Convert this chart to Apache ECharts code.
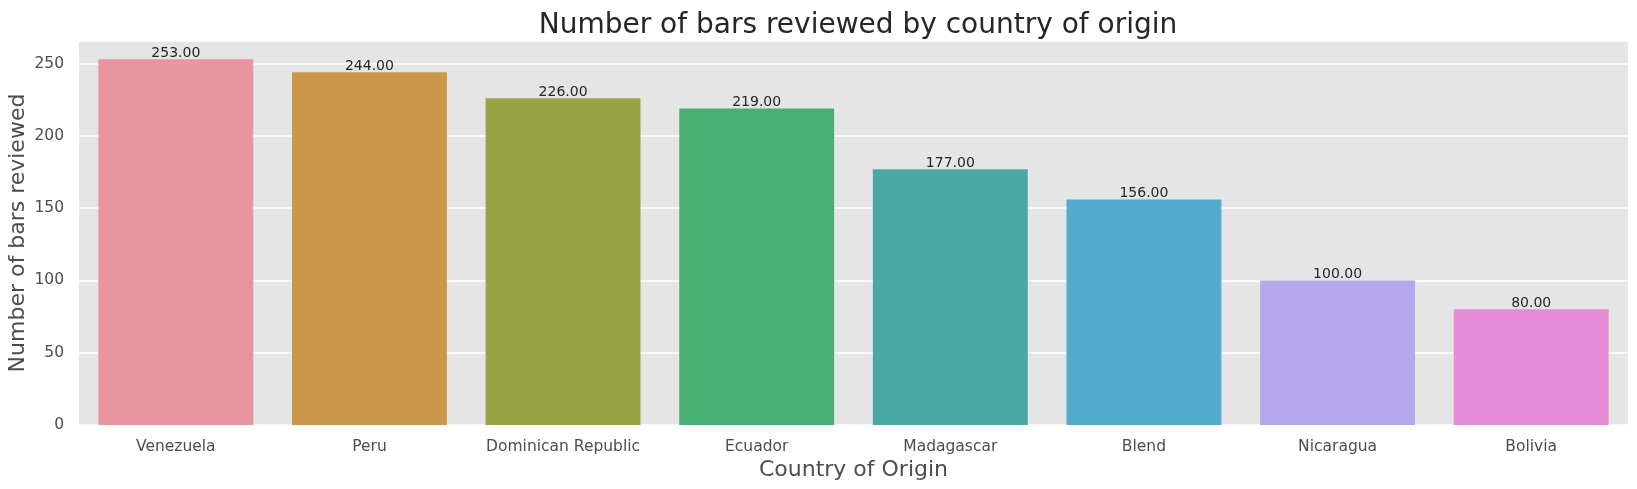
<!DOCTYPE html>
<html>
<head>
<meta charset="utf-8">
<script src="https://cdn.jsdelivr.net/npm/echarts@6/dist/echarts.min.js"></script>
<style>html,body{margin:0;padding:0;background:#fff}#c{width:1637px;height:489px}</style>
</head>
<body>
<div id="c"></div>
<script>
const countries = ["Venezuela","Peru","Dominican Republic","Ecuador","Madagascar","Blend","Nicaragua","Bolivia"];
const counts = [253,244,226,219,177,156,100,80];
const barColors = ["#e8959f","#cb974b","#98a346","#4aaf72","#4aa8a6","#53abce","#b5a7ea","#e68bd6"];
const yTicks = [0,50,100,150,200,250];

const chart = echarts.init(document.getElementById('c'));
chart.setOption({
  animation:false,
  backgroundColor:'#ffffff',
  textStyle:{fontFamily:'DejaVu Sans'},
  title:{text:'Number of bars reviewed by country of origin',left:853,textAlign:'center',top:7,
    textStyle:{fontFamily:'DejaVu Sans',fontSize:28,fontWeight:'normal',color:'#262626'}},
  grid:{left:79,right:9,top:41,bottom:64,show:true,backgroundColor:'#e5e5e5',borderWidth:0,
    containLabel:false,outerBoundsMode:'none'},
  xAxis:{type:'category',data:countries,
    axisLine:{show:false},axisTick:{show:false},
    axisLabel:{fontSize:15.5,color:'#4d4d4d',margin:14,interval:0},
    name:'Country of Origin',nameLocation:'middle',nameGap:34,nameMoveOverlap:false,
    nameTextStyle:{fontSize:22,color:'#4d4d4d'}},
  yAxis:{type:'value',min:0,max:253*1.05,interval:50,
    axisLine:{show:false},axisTick:{show:false},
    axisLabel:{fontSize:15.5,color:'#4d4d4d',margin:15,
      formatter:function(v){return yTicks.indexOf(v)>=0?String(v):'';}},
    splitLine:{lineStyle:{color:'#ffffff',width:1.5}},
    name:'Number of bars reviewed',nameLocation:'middle',nameGap:50,nameMoveOverlap:false,
    nameTextStyle:{fontSize:22,color:'#4d4d4d'}},
  series:[{type:'bar',barCategoryGap:'20%',
    data:counts.map((v,i)=>({value:v,itemStyle:{color:barColors[i]}})),
    label:{show:true,position:'top',distance:-1,fontSize:14,color:'#262626',
      formatter:function(p){return p.value.toFixed(2);}}}]
});
</script>
</body>
</html>
